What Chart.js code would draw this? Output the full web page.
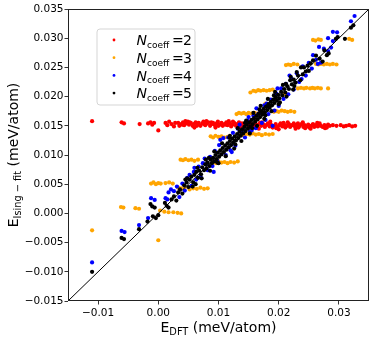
<!DOCTYPE html>
<html><head><meta charset="utf-8">
<script src="https://cdn.jsdelivr.net/npm/chart.js@4"></script>
<style>html,body{margin:0;padding:0;background:#fff}canvas{display:block}</style>
</head><body>
<canvas id="c" width="374" height="339"></canvas>
<script>
// ---- data ----
const seriesLabels = ['2', '3', '4', '5'];
const seriesColors = ['#ff0000', '#ffa500', '#0000ff', '#000000'];
const xTicks = [-0.01, 0.00, 0.01, 0.02, 0.03];
const yTicks = [-0.015, -0.010, -0.005, 0.000, 0.005, 0.010, 0.015, 0.020, 0.025, 0.030, 0.035];
const axisRange = [-0.015, 0.035];
const diagonal = [[-0.015, -0.015], [0.035, 0.035]];

// N_coeff = 2
const n2 = [
[-0.0110,0.0158],[-0.0061,0.0156],[-0.0057,0.0154],[-0.0031,0.0153],[-0.0017,0.0154],[-0.0013,0.0156],[-0.0010,0.0152],[-0.0007,0.0155],[0.0000,0.0142],[0.0012,0.0155],[0.0015,0.0151],[0.0018,0.0157],[0.0022,0.0153],[0.0026,0.0149],[0.0028,0.0155],
[0.0033,0.0155],[0.0035,0.0150],[0.0038,0.0153],[0.0041,0.0156],[0.0043,0.0151],[0.0046,0.0154],[0.0049,0.0157],[0.0051,0.0152],[0.0054,0.0155],[0.0057,0.0150],[0.0059,0.0153],[0.0062,0.0156],[0.0065,0.0152],[0.0067,0.0155],[0.0070,0.0150],[0.0073,0.0154],[0.0075,0.0157],[0.0078,0.0151],[0.0081,0.0154],[0.0083,0.0156],[0.0086,0.0150],[0.0089,0.0153],[0.0091,0.0155],[0.0094,0.0151],[0.0097,0.0154],[0.0099,0.0157],[0.0102,0.0152],[0.0105,0.0155],[0.0107,0.0150],[0.0110,0.0153],[0.0113,0.0156],[0.0115,0.0151],[0.0118,0.0154],[0.0121,0.0149],[0.0123,0.0152],[0.0126,0.0155],[0.0129,0.0150],[0.0131,0.0153],[0.0134,0.0156],[0.0137,0.0151],[0.0139,0.0154],[0.0142,0.0149],[0.0145,0.0152],[0.0147,0.0155],[0.0150,0.0150],[0.0153,0.0153],[0.0155,0.0148],[0.0158,0.0151],[0.0161,0.0154],[0.0163,0.0149],[0.0166,0.0152],[0.0169,0.0155],[0.0171,0.0150],[0.0174,0.0153],[0.0177,0.0148],[0.0179,0.0151],[0.0182,0.0154],[0.0185,0.0149],[0.0187,0.0152],[0.0190,0.0147],[0.0193,0.0150],[0.0195,0.0153],[0.0198,0.0148],[0.0201,0.0151],[0.0203,0.0154],[0.0206,0.0149],[0.0209,0.0152],[0.0211,0.0147],[0.0214,0.0150],[0.0217,0.0153],[0.0219,0.0148],[0.0222,0.0151],[0.0225,0.0154],[0.0227,0.0149],[0.0230,0.0152],[0.0233,0.0147],[0.0235,0.0150],[0.0238,0.0153],[0.0241,0.0148],[0.0243,0.0151],[0.0246,0.0149],[0.0249,0.0152],[0.0251,0.0147],[0.0254,0.0150],[0.0257,0.0153],[0.0259,0.0148],[0.0262,0.0151],[0.0265,0.0149],[0.0267,0.0152],[0.0270,0.0150],[0.0273,0.0148],[0.0276,0.0151],[0.0279,0.0149],[0.0282,0.0152],[0.0285,0.0150],
[0.0040,0.0152],[0.0052,0.0156],[0.0064,0.0150],[0.0076,0.0153],[0.0088,0.0156],[0.0100,0.0150],[0.0112,0.0152],[0.0124,0.0157],[0.0136,0.0149],[0.0148,0.0153],[0.0160,0.0150],[0.0172,0.0156],[0.0184,0.0152],[0.0196,0.0146],[0.0208,0.0155],[0.0220,0.0150],[0.0232,0.0154],[0.0244,0.0146],[0.0256,0.0151],[0.0268,0.0154],[0.0280,0.0147],
[0.0045,0.0158],[0.0060,0.0147],[0.0080,0.0158],[0.0095,0.0147],[0.0117,0.0158],[0.0133,0.0146],[0.0152,0.0157],[0.0167,0.0145],[0.0186,0.0157],[0.0200,0.0144],[0.0215,0.0156],[0.0228,0.0145],[0.0240,0.0156],[0.0253,0.0145],[0.0264,0.0155],[0.0277,0.0146],
[0.0290,0.0151],[0.0296,0.0150],[0.0303,0.0151],[0.0308,0.0149],[0.0312,0.0150],[0.0317,0.0151],[0.0322,0.0149],[0.0327,0.0150]
];

// N_coeff = 3
const n3 = [
[0.0257,0.0297],[0.0261,0.0296],[0.0266,0.0298],[0.0270,0.0297],[0.0317,0.0299],[0.0322,0.0297],
[0.0212,0.0254],[0.0216,0.0255],[0.0220,0.0254],[0.0225,0.0256],[0.0231,0.0255],[0.0262,0.0256],[0.0266,0.0255],[0.0270,0.0256],[0.0275,0.0255],[0.0280,0.0256],[0.0285,0.0255],[0.0290,0.0256],[0.0296,0.0255],
[0.0153,0.0207],[0.0158,0.0210],[0.0162,0.0209],[0.0166,0.0211],[0.0170,0.0210],[0.0175,0.0211],[0.0180,0.0210],[0.0185,0.0211],[0.0190,0.0212],[0.0232,0.0214],[0.0237,0.0215],[0.0242,0.0214],[0.0246,0.0215],[0.0252,0.0214],[0.0256,0.0215],[0.0260,0.0214],[0.0265,0.0215],[0.0270,0.0214],[0.0282,0.0214],
[0.0130,0.0170],[0.0134,0.0172],[0.0138,0.0171],[0.0142,0.0172],[0.0146,0.0170],[0.0150,0.0172],[0.0155,0.0171],[0.0160,0.0172],[0.0165,0.0171],[0.0170,0.0173],[0.0192,0.0174],[0.0196,0.0175],[0.0200,0.0174],[0.0205,0.0176],[0.0210,0.0175],[0.0215,0.0174],[0.0220,0.0175],[0.0226,0.0174],
[0.0087,0.0132],[0.0091,0.0130],[0.0095,0.0133],[0.0100,0.0131],[0.0105,0.0132],[0.0110,0.0130],[0.0115,0.0131],[0.0137,0.0136],[0.0142,0.0134],[0.0147,0.0136],[0.0152,0.0135],[0.0157,0.0137],[0.0162,0.0135],[0.0167,0.0136],[0.0172,0.0134],[0.0178,0.0136],[0.0184,0.0135],[0.0190,0.0136],
[0.0037,0.0092],[0.0041,0.0091],[0.0045,0.0093],[0.0050,0.0091],[0.0055,0.0092],[0.0060,0.0090],[0.0066,0.0092],[0.0092,0.0088],[0.0096,0.0086],[0.0100,0.0089],[0.0105,0.0087],[0.0110,0.0088],[0.0115,0.0086],[0.0120,0.0088],[0.0126,0.0087],[0.0132,0.0089],
[-0.0012,0.0051],[-0.0008,0.0053],[-0.0004,0.0050],[0.0000,0.0052],[0.0004,0.0051],[0.0012,0.0052],[0.0018,0.0053],[0.0024,0.0051],[0.0033,0.0044],[0.0038,0.0043],[0.0044,0.0045],[0.0052,0.0041],[0.0058,0.0043],[0.0064,0.0042],[0.0070,0.0044],[0.0076,0.0042],[0.0082,0.0043],
[-0.0062,0.0011],[-0.0058,0.0010],[-0.0038,0.0009],[-0.0032,0.0008],[0.0003,0.0005],[0.0010,0.0003],[0.0017,0.0002],[0.0025,0.0002],[0.0032,0.0001],[0.0038,0.0000],
[-0.0110,-0.0029],[0.0000,-0.0046],[0.0178,0.0188],[0.0210,0.0205]
];

// N_coeff = 4
const n4 = [
[-0.0110,-0.0084],[-0.0061,-0.0030],[-0.0056,-0.0032],[-0.0032,-0.0020],[-0.0017,-0.0008],[-0.0012,0.0026],[-0.0006,0.0023],[0.0012,0.0026],[0.0015,0.0024],[0.0017,0.0036],[0.0021,0.0041],[0.0026,0.0038],[0.0031,0.0046],[0.0035,0.0028],[0.0040,0.0051],[0.0044,0.0039],[0.0048,0.0061],[0.0052,0.0066],[0.0055,0.0047],[0.0059,0.0071],[0.0063,0.0058],[0.0067,0.0080],[0.0070,0.0063],[0.0074,0.0086],[0.0079,0.0084],[0.0082,0.0074],[0.0086,0.0097],[0.0090,0.0081],[0.0092,0.0071],[0.0094,0.0107],[0.0098,0.0090],[0.0103,0.0126],[0.0108,0.0129],[0.0112,0.0100],[0.0116,0.0130],[0.0120,0.0108],[0.0124,0.0138],[0.0128,0.0116],[0.0132,0.0145],[0.0137,0.0140],[0.0140,0.0143],[0.0144,0.0130],[0.0148,0.0159],[0.0152,0.0140],[0.0155,0.0142],[0.0158,0.0167],[0.0162,0.0146],[0.0166,0.0170],[0.0169,0.0173],[0.0172,0.0155],[0.0176,0.0185],[0.0180,0.0188],[0.0183,0.0170],[0.0187,0.0195],[0.0190,0.0150],[0.0193,0.0176],[0.0196,0.0205],[0.0200,0.0184],[0.0204,0.0214],[0.0208,0.0196],[0.0212,0.0222],[0.0216,0.0204],[0.0221,0.0231],[0.0225,0.0212],[0.0230,0.0240],[0.0234,0.0225],[0.0240,0.0252],[0.0245,0.0236],[0.0250,0.0258],[0.0255,0.0248],[0.0257,0.0271],[0.0262,0.0263],[0.0265,0.0256],[0.0267,0.0285],[0.0270,0.0258],[0.0275,0.0282],[0.0282,0.0278],[0.0282,0.0300],[0.0287,0.0284],[0.0290,0.0311],[0.0290,0.0295],[0.0297,0.0310],[0.0320,0.0329],[0.0326,0.0338],
[0.0060,0.0078],[0.0077,0.0094],[0.0101,0.0117],[0.0122,0.0105],[0.0135,0.0152],[0.0150,0.0165],[0.0163,0.0180],[0.0178,0.0160],[0.0198,0.0214],[0.0218,0.0236],[0.0238,0.0230]
];

// N_coeff = 5
const n5 = [
[-0.0110,-0.0100],[-0.0061,-0.0042],[-0.0057,-0.0044],[-0.0032,-0.0027],[-0.0018,-0.0014],
[-0.0013,0.0016],[-0.0010,0.0012],[-0.0006,0.0010],[-0.0009,-0.0005],[-0.0004,-0.0008],[0.0000,-0.0003],
[0.0011,0.0018],[0.0014,0.0013],[0.0017,0.0010],[0.0022,0.0024],[0.0026,0.0029],[0.0030,0.0022],[0.0033,0.0036],[0.0036,0.0041],[0.0040,0.0034],[0.0043,0.0048],[0.0047,0.0053],[0.0050,0.0045],[0.0052,0.0058],[0.0055,0.0063],[0.0058,0.0053],[0.0060,0.0066],[0.0063,0.0071],[0.0066,0.0061],[0.0068,0.0073],[0.0071,0.0067],[0.0073,0.0079],[0.0076,0.0074],[0.0078,0.0084],[0.0080,0.0077],[0.0082,0.0087],[0.0085,0.0081],[0.0087,0.0092],[0.0089,0.0086],[0.0091,0.0095],[0.0093,0.0089],[0.0095,0.0100],[0.0097,0.0093],[0.0099,0.0104],[0.0101,0.0097],[0.0103,0.0108],[0.0105,0.0101],[0.0107,0.0112],[0.0109,0.0105],[0.0111,0.0116],[0.0113,0.0109],[0.0115,0.0120],[0.0117,0.0113],[0.0119,0.0124],[0.0121,0.0117],[0.0123,0.0128],[0.0125,0.0121],[0.0127,0.0132],[0.0129,0.0125],[0.0131,0.0136],[0.0133,0.0129],[0.0135,0.0140],[0.0137,0.0133],[0.0139,0.0144],[0.0141,0.0137],[0.0143,0.0148],[0.0145,0.0141],[0.0147,0.0152],[0.0149,0.0145],[0.0151,0.0156],[0.0153,0.0149],[0.0155,0.0160],[0.0157,0.0153],[0.0159,0.0163],[0.0161,0.0157],[0.0163,0.0167],[0.0165,0.0161],[0.0167,0.0171],[0.0169,0.0165],[0.0171,0.0175],[0.0173,0.0169],[0.0175,0.0179],[0.0177,0.0173],[0.0179,0.0183],[0.0181,0.0177],[0.0183,0.0187],[0.0185,0.0181],[0.0187,0.0191],[0.0189,0.0185],[0.0191,0.0195],[0.0193,0.0189],[0.0195,0.0199],[0.0197,0.0193],[0.0199,0.0203],[0.0201,0.0197],[0.0204,0.0208],[0.0206,0.0202],[0.0209,0.0213],[0.0211,0.0207],[0.0214,0.0218],[0.0217,0.0213],[0.0220,0.0234],[0.0222,0.0221],[0.0225,0.0229],[0.0228,0.0224],[0.0232,0.0236],[0.0237,0.0250],[0.0240,0.0238],[0.0245,0.0243],[0.0248,0.0253],[0.0253,0.0257],[0.0257,0.0262],[0.0262,0.0270],[0.0268,0.0265],[0.0273,0.0260],[0.0276,0.0279],[0.0280,0.0271],[0.0283,0.0274],[0.0295,0.0299],[0.0298,0.0302],[0.0310,0.0299],[0.0320,0.0318],[0.0324,0.0322],
[0.0048,0.0060],[0.0062,0.0050],[0.0084,0.0095],[0.0098,0.0087],[0.0118,0.0130],[0.0128,0.0118],[0.0144,0.0155],[0.0156,0.0146],[0.0168,0.0178],[0.0178,0.0168],[0.0192,0.0202],[0.0202,0.0190],[0.0212,0.0222],[0.0226,0.0218],
[0.0045,0.0058],[0.0057,0.0046],[0.0065,0.0078],[0.0072,0.0060],[0.0079,0.0092],[0.0086,0.0073],[0.0093,0.0106],[0.0100,0.0086],[0.0106,0.0120],[0.0112,0.0098],[0.0119,0.0133],[0.0126,0.0111],[0.0132,0.0146],[0.0138,0.0124],[0.0146,0.0159],[0.0152,0.0137],[0.0158,0.0172],[0.0164,0.0150],[0.0170,0.0184],[0.0176,0.0162],[0.0182,0.0196],[0.0188,0.0175],[0.0194,0.0208],[0.0200,0.0187],[0.0207,0.0220],[0.0213,0.0200],[0.0219,0.0228],[0.0224,0.0212],[0.0230,0.0242],[0.0236,0.0228],[0.0242,0.0250],[0.0250,0.0244]
];

const seriesPoints = [n2, n3, n4, n5];

// ---- helpers ----
const FONT = "'DejaVu Sans', 'Liberation Sans', sans-serif";
function fmt(v, d) {
  const s = Math.abs(v).toFixed(d);
  return (v < -1e-12 ? '\u2212' : '') + s;
}
function toXY(arr) { return arr.map(p => ({x: p[0], y: p[1]})); }

function drawRun(ctx, pieces, x, y) {
  let cx = x;
  for (const p of pieces) {
    ctx.font = (p.italic ? 'italic ' : '') + p.size + 'px ' + FONT;
    ctx.fillText(p.t, cx, y + (p.dy || 0));
    cx += ctx.measureText(p.t).width + (p.gap || 0);
  }
  return cx - x;
}
function runWidth(ctx, pieces) {
  let w = 0;
  for (const p of pieces) {
    ctx.font = (p.italic ? 'italic ' : '') + p.size + 'px ' + FONT;
    w += ctx.measureText(p.t).width + (p.gap || 0);
  }
  return w;
}

const deco = {
  id: 'deco',
  afterDraw(chart) {
    const ctx = chart.ctx, a = chart.chartArea;
    ctx.save();
    // frame
    ctx.strokeStyle = '#222';
    ctx.lineWidth = 1;
    ctx.strokeRect(Math.round(a.left) + 0.5, Math.round(a.top) + 0.5,
                   Math.round(a.right - a.left) - 1, Math.round(a.bottom - a.top) - 1);

    ctx.fillStyle = '#000';
    ctx.textBaseline = 'alphabetic';
    ctx.textAlign = 'left';
    // x title
    const xt = [
      {t: 'E', size: 14},
      {t: 'DFT', size: 9.8, dy: 3},
      {t: ' (meV/atom)', size: 14}
    ];
    const xw = runWidth(ctx, xt);
    drawRun(ctx, xt, (a.left + a.right) / 2 - xw / 2, 331.5);

    // y title (rotated)
    const yt = [
      {t: 'E', size: 14},
      {t: 'Ising \u2212 fit', size: 9.8, dy: 3},
      {t: ' (meV/atom)', size: 14}
    ];
    const yw = runWidth(ctx, yt);
    ctx.save();
    ctx.translate(18, (a.top + a.bottom) / 2);
    ctx.rotate(-Math.PI / 2);
    drawRun(ctx, yt, -yw / 2, 0);
    ctx.restore();

    // legend
    const lx = a.left + 29, ly = a.top + 20, lw = 98, lh = 76, r = 3;
    ctx.beginPath();
    ctx.moveTo(lx + r, ly);
    ctx.arcTo(lx + lw, ly, lx + lw, ly + lh, r);
    ctx.arcTo(lx + lw, ly + lh, lx, ly + lh, r);
    ctx.arcTo(lx, ly + lh, lx, ly, r);
    ctx.arcTo(lx, ly, lx + lw, ly, r);
    ctx.closePath();
    ctx.fillStyle = 'rgba(255,255,255,0.8)';
    ctx.fill();
    ctx.strokeStyle = '#d5d5d5';
    ctx.lineWidth = 1;
    ctx.stroke();

    seriesLabels.forEach((lab, i) => {
      const cy = ly + 11 + i * 17.7;
      ctx.fillStyle = seriesColors[i];
      ctx.beginPath();
      ctx.arc(lx + 17, cy, 1.4, 0, Math.PI * 2);
      ctx.fill();
      ctx.fillStyle = '#000';
      ctx.font = 'italic 14px ' + FONT;
      ctx.fillText('N', lx + 39.5, cy + 5.3);
      ctx.font = '9px ' + FONT;
      ctx.fillText('coeff', lx + 50, cy + 8);
      ctx.font = '14px ' + FONT;
      ctx.fillText('=', lx + 75, cy + 5.3);
      ctx.fillText(lab, lx + 86, cy + 5.3);
    });
    ctx.restore();
  }
};

const ptStyle = (i, order) => ({
  label: 'N_coeff = ' + seriesLabels[i],
  data: toXY(seriesPoints[i]),
  backgroundColor: seriesColors[i],
  borderColor: seriesColors[i],
  borderWidth: 0,
  pointRadius: 2.1,
  pointHoverRadius: 2.1,
  order: order
});

new Chart(document.getElementById('c'), {
  type: 'scatter',
  data: {
    datasets: [
      ptStyle(0, 4), ptStyle(1, 3), ptStyle(2, 2), ptStyle(3, 1),
      {
        type: 'line', label: 'diag', data: toXY(diagonal),
        borderColor: '#000', borderWidth: 1, pointRadius: 0, fill: false, order: 0
      }
    ]
  },
  options: {
    responsive: false,
    animation: false,
    events: [],
    layout: {padding: {left: 0, top: 9, right: 5, bottom: 0}},
    plugins: {legend: {display: false}, tooltip: {enabled: false}},
    scales: {
      x: {
        type: 'linear', min: axisRange[0], max: axisRange[1],
        afterBuildTicks: s => { s.ticks = xTicks.map(v => ({value: v})); },
        afterFit: s => { s.height = 38; },
        ticks: {callback: v => fmt(v, 2), color: '#000', font: {family: FONT, size: 10.5}, padding: 2, maxRotation: 0, autoSkip: false},
        grid: {drawOnChartArea: false, drawTicks: true, tickLength: 3.5, tickColor: '#000', tickWidth: 0.8},
        border: {display: false}
      },
      y: {
        type: 'linear', min: axisRange[0], max: axisRange[1],
        afterBuildTicks: s => { s.ticks = yTicks.map(v => ({value: v})); },
        afterFit: s => { s.width = 68; },
        ticks: {callback: v => fmt(v, 3), color: '#000', font: {family: FONT, size: 10.5}, padding: 1, autoSkip: false},
        grid: {drawOnChartArea: false, drawTicks: true, tickLength: 3.5, tickColor: '#000', tickWidth: 0.8},
        border: {display: false}
      }
    }
  },
  plugins: [deco]
});
</script>
</body></html>
